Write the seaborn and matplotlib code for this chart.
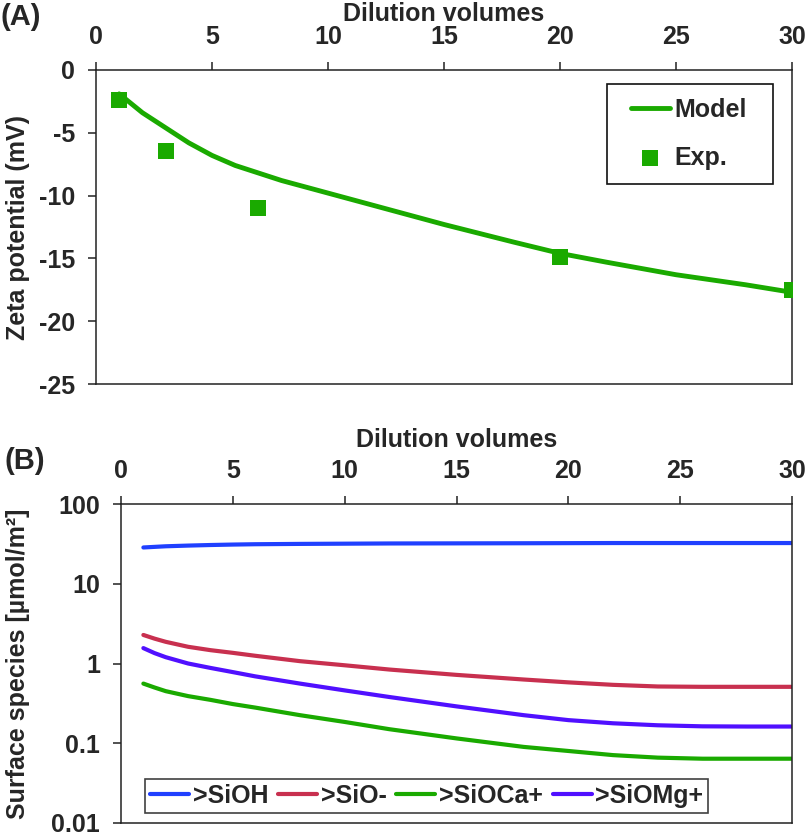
import matplotlib
matplotlib.use("Agg")
import matplotlib.pyplot as plt
import seaborn as sns
import pandas as pd
from matplotlib.ticker import FixedLocator, NullLocator
from matplotlib.patches import Rectangle

# ---------------- data ----------------
# Panel A: zeta potential (model curve and experimental points)
model_x = [1, 2, 3, 4, 5, 6, 7, 8, 10, 12, 15, 18, 20, 22, 25, 28, 30]
model_zeta = [-1.9, -3.4, -4.6, -5.8, -6.8, -7.6, -8.2, -8.8, -9.8, -10.8,
              -12.3, -13.7, -14.6, -15.3, -16.3, -17.1, -17.7]
exp_x = [1, 3, 7, 20, 30]
exp_zeta = [-2.4, -6.45, -11.0, -14.9, -17.5]

# Panel B: surface species
species_x = [1, 1.5, 2, 3, 4, 5, 6, 8, 10, 12, 15, 18, 20, 22, 24, 26, 28, 30]
sioh = [28.5, 29.0, 29.5, 30.1, 30.6, 31.0, 31.3, 31.6, 31.8, 32.0, 32.1,
        32.2, 32.3, 32.4, 32.4, 32.4, 32.4, 32.4]
sio = [2.28, 2.05, 1.87, 1.62, 1.47, 1.36, 1.25, 1.07, 0.95, 0.84, 0.72,
       0.63, 0.58, 0.54, 0.515, 0.51, 0.51, 0.51]
sioca = [0.56, 0.50, 0.45, 0.39, 0.35, 0.31, 0.28, 0.225, 0.185, 0.15, 0.115,
         0.09, 0.08, 0.071, 0.066, 0.064, 0.064, 0.064]
siomg = [1.56, 1.35, 1.2, 1.0, 0.88, 0.78, 0.69, 0.56, 0.46, 0.38, 0.29,
         0.225, 0.195, 0.178, 0.168, 0.163, 0.162, 0.162]
species_names = [">SiOH", ">SiO-", ">SiOCa+", ">SiOMg+"]
species_colors = ["#2040ff", "#c8304f", "#1aaa00", "#5010ff"]

x_ticks = [0, 5, 10, 15, 20, 25, 30]
zeta_ticks = [0, -5, -10, -15, -20, -25]
log_ticks = [0.01, 0.1, 1, 10, 100]
log_labels = ["0.01", "0.1", "1", "10", "100"]

# ---------------- style ----------------
sns.set_theme(style="ticks")
plt.rcParams["font.family"] = ["Liberation Sans", "DejaVu Sans"]
plt.rcParams["font.weight"] = "bold"
plt.rcParams["axes.labelweight"] = "bold"
plt.rcParams["axes.unicode_minus"] = False
FS = 18

green = "#1aaa00"

W, H = 806, 833
fig = plt.figure(figsize=(W / 100, H / 100), dpi=100)

def fig_axes(x0, y0, x1, y1):
    return fig.add_axes([x0 / W, 1 - y1 / H, (x1 - x0) / W, (y1 - y0) / H])

axA = fig_axes(96, 70, 792, 384)
axB = fig_axes(121, 504, 792, 823)

for ax in (axA, axB):
    for s in ax.spines.values():
        s.set_linewidth(1.1)
        s.set_color("#222222")
        s.set_visible(True)
    ax.tick_params(axis="both", which="major", length=6, width=1.1,
                   color="#222222", labelsize=FS, pad=9, direction="out")
    ax.tick_params(axis="both", which="minor", length=0)
    ax.xaxis.tick_top()
    ax.xaxis.set_label_position("top")

# ---------------- Panel A ----------------
dfA = pd.DataFrame({"x": model_x, "zeta": model_zeta})
dfE = pd.DataFrame({"x": exp_x, "zeta": exp_zeta})
sns.lineplot(data=dfA, x="x", y="zeta", ax=axA, color=green, lw=3.5,
             label="Model", zorder=2)
sns.scatterplot(data=dfE, x="x", y="zeta", ax=axA, color=green, marker="s",
                s=120, linewidth=0, label="Exp.", zorder=3)
axA.set_xlim(0, 30)
axA.set_ylim(-25, 0)
axA.xaxis.set_major_locator(FixedLocator(x_ticks))
axA.yaxis.set_major_locator(FixedLocator(zeta_ticks))
axA.set_xlabel("Dilution volumes", fontsize=FS)
axA.set_ylabel("Zeta potential (mV)", fontsize=FS)
axA.xaxis.set_label_coords(0.5, (384 - 14) / 314)
axA.xaxis.label.set_va("center")
axA.yaxis.set_label_coords((18 - 96) / 696, 0.5)
axA.yaxis.label.set_va("center")

legA = axA.legend(loc="upper left", bbox_to_anchor=(631 / W, 1 - 98 / H),
                  bbox_transform=fig.transFigure, borderaxespad=0,
                  fontsize=FS, frameon=False,
                  handlelength=1.55, handletextpad=0.2, labelspacing=0.95,
                  borderpad=0)
for t in legA.get_texts():
    t.set_fontweight("bold")
frameA = Rectangle((607 / W, 1 - 184 / H), 166 / W, 100 / H,
                   transform=fig.transFigure, fill=False, lw=1.2,
                   edgecolor="#111111", zorder=5)
fig.add_artist(frameA)

# ---------------- Panel B ----------------
dfB = pd.DataFrame({"x": species_x, ">SiOH": sioh, ">SiO-": sio,
                    ">SiOCa+": sioca, ">SiOMg+": siomg})
dfB_long = dfB.melt(id_vars="x", var_name="species", value_name="conc")
sns.lineplot(data=dfB_long, x="x", y="conc", hue="species",
             hue_order=species_names, palette=species_colors, ax=axB, lw=3.0)
axB.set_yscale("log")
axB.set_xlim(0, 30)
axB.set_ylim(0.01, 100)
axB.xaxis.set_major_locator(FixedLocator(x_ticks))
axB.yaxis.set_major_locator(FixedLocator(log_ticks))
axB.yaxis.set_minor_locator(NullLocator())
axB.set_yticklabels(log_labels)
axB.set_xlabel("Dilution volumes", fontsize=FS)
axB.set_ylabel("Surface species [µmol/m²]", fontsize=FS)
axB.xaxis.set_label_coords(0.5, (823 - 440) / 319)
axB.xaxis.label.set_va("center")
axB.yaxis.set_label_coords((18 - 121) / 671, 0.5)
axB.yaxis.label.set_va("center")
legB = axB.legend(loc="lower left", bbox_to_anchor=(145 / W, 1 - 813 / H),
                  bbox_transform=fig.transFigure, borderaxespad=0, ncol=4,
                  fontsize=FS, frameon=True, fancybox=False, edgecolor="#111111",
                  handlelength=1.55, handletextpad=0.15, columnspacing=0.4,
                  borderpad=0.2, title=None)
legB.get_frame().set_linewidth(1.2)
legB.get_frame().set_boxstyle("square", pad=0)
for t in legB.get_texts():
    t.set_fontweight("bold")

fig.text(0 / W, 1 - 17 / H, "(A)", fontsize=FS + 3, fontweight="bold",
         va="center", ha="left")
fig.text(4 / W, 1 - 461 / H, "(B)", fontsize=FS + 3, fontweight="bold",
         va="center", ha="left")

fig.savefig("out.png", dpi=100)
